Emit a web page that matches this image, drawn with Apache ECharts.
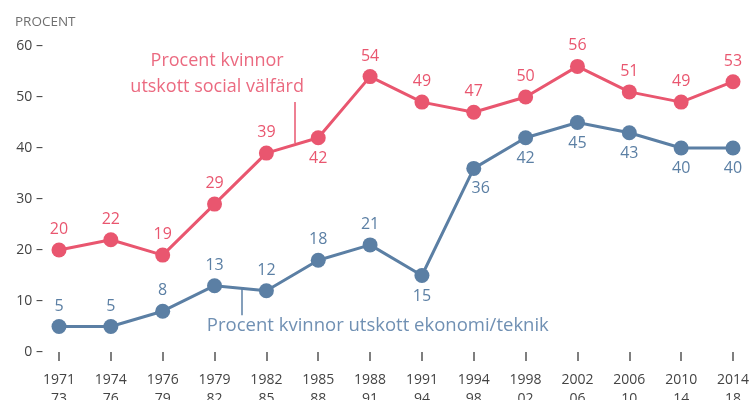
<!DOCTYPE html>
<html><head><meta charset="utf-8">
<script src="https://cdn.jsdelivr.net/npm/echarts@6/dist/echarts.min.js"></script>
<style>html,body{margin:0;padding:0;background:#fff}#c{width:749px;height:400px}</style>
</head><body><div id="c"></div>
<script>
const periodStart = ['1971','1974','1976','1979','1982','1985','1988','1991','1994','1998','2002','2006','2010','2014'];
const periodEnd   = ['73','76','79','82','85','88','91','94','98','02','06','10','14','18'];
const socialValues = [20,22,19,29,39,42,54,49,47,50,56,51,49,53];
const ekonomiValues = [5,5,8,13,12,18,21,15,36,42,45,43,40,40];
const socialLabelPos = ['top','top','top','top','top','bottom','top','top','top','top','top','top','top','top'];
const ekonomiLabelPos = ['top','top','top','top','top','top','top','bottom','bottom','bottom','bottom','bottom','bottom','bottom'];
const yTicks = [0,10,20,30,40,50,60];

const PINK = '#e9566f', BLUE = '#5b7fa4';
const FONT = '"Open Sans", "Noto Sans", sans-serif';

const chart = echarts.init(document.getElementById('c'), null, {renderer:'canvas'});

function mk(values, pos, extra) {
  return values.map((v,i)=>{
    const d = {value:[i,v], label:{position:pos[i]}};
    if (extra && extra[i]) d.label.offset = extra[i];
    return d;
  });
}

chart.setOption({
  animation:false,
  title:{text:'PROCENT', left:10, top:10, textStyle:{fontFamily:FONT, fontSize:13.5, fontWeight:'normal', color:'#6f6f6f'}},
  grid:{left:59, right:16, top:46, bottom:48, containLabel:false, outerBoundsMode:'none'},
  xAxis:{type:'value', min:0, max:periodStart.length-1, interval:1, offset:5,
    axisLine:{show:false}, splitLine:{show:false},
    axisTick:{show:true, length:9, lineStyle:{color:'#555', width:1.5}},
    axisLabel:{margin:14, fontFamily:FONT, fontSize:14, lineHeight:19, color:'#444',
      formatter:(v)=> periodStart[v] + '\n' + periodEnd[v]}},
  yAxis:{type:'value', min:yTicks[0], max:yTicks[yTicks.length-1], interval:10,
    axisLine:{show:false}, axisTick:{show:false}, splitLine:{show:false},
    axisLabel:{margin:16, fontFamily:FONT, fontSize:14, color:'#444', formatter:(v)=> v + ' \u2013'}},
  series:[
    {name:'social', type:'line', data:mk(socialValues, socialLabelPos), symbol:'circle', symbolSize:15,
      itemStyle:{color:PINK}, lineStyle:{color:PINK, width:3}, z:3,
      label:{show:true, distance:5, fontFamily:FONT, fontSize:16, color:PINK, formatter:(p)=>p.value[1]},
      markLine:{silent:true, symbol:'none', label:{show:false}, lineStyle:{color:PINK, width:1.5, type:'solid'},
        data:[[{coord:[4.54,49]},{coord:[4.54,41]}]]}},
    {name:'ekonomi', type:'line', data:mk(ekonomiValues, ekonomiLabelPos, {8:[7,0]}), symbol:'circle', symbolSize:15,
      itemStyle:{color:BLUE}, lineStyle:{color:BLUE, width:3}, z:2,
      label:{show:true, distance:5, fontFamily:FONT, fontSize:16, color:BLUE, formatter:(p)=>p.value[1]},
      markLine:{silent:true, symbol:'none', label:{show:false}, lineStyle:{color:BLUE, width:1.5, type:'solid'},
        data:[[{coord:[3.53,12.4]},{coord:[3.53,7.2]}]]}}
  ]
});

const pA = chart.convertToPixel({gridIndex:0},[3.05,54.5]);
const pB = chart.convertToPixel({gridIndex:0},[6.15,5.2]);
chart.setOption({graphic:[
  {type:'text', x:pA[0], y:pA[1], style:{text:'Procent kvinnor\nutskott social välfärd', fill:'#eb6a80',
    font:'18px ' + FONT, lineHeight:26, align:'center', verticalAlign:'middle'}},
  {type:'text', x:pB[0], y:pB[1], style:{text:'Procent kvinnor utskott ekonomi/teknik', fill:'#7090b3',
    font:'18.5px ' + FONT, align:'center', verticalAlign:'middle'}}
]});
</script></body></html>
